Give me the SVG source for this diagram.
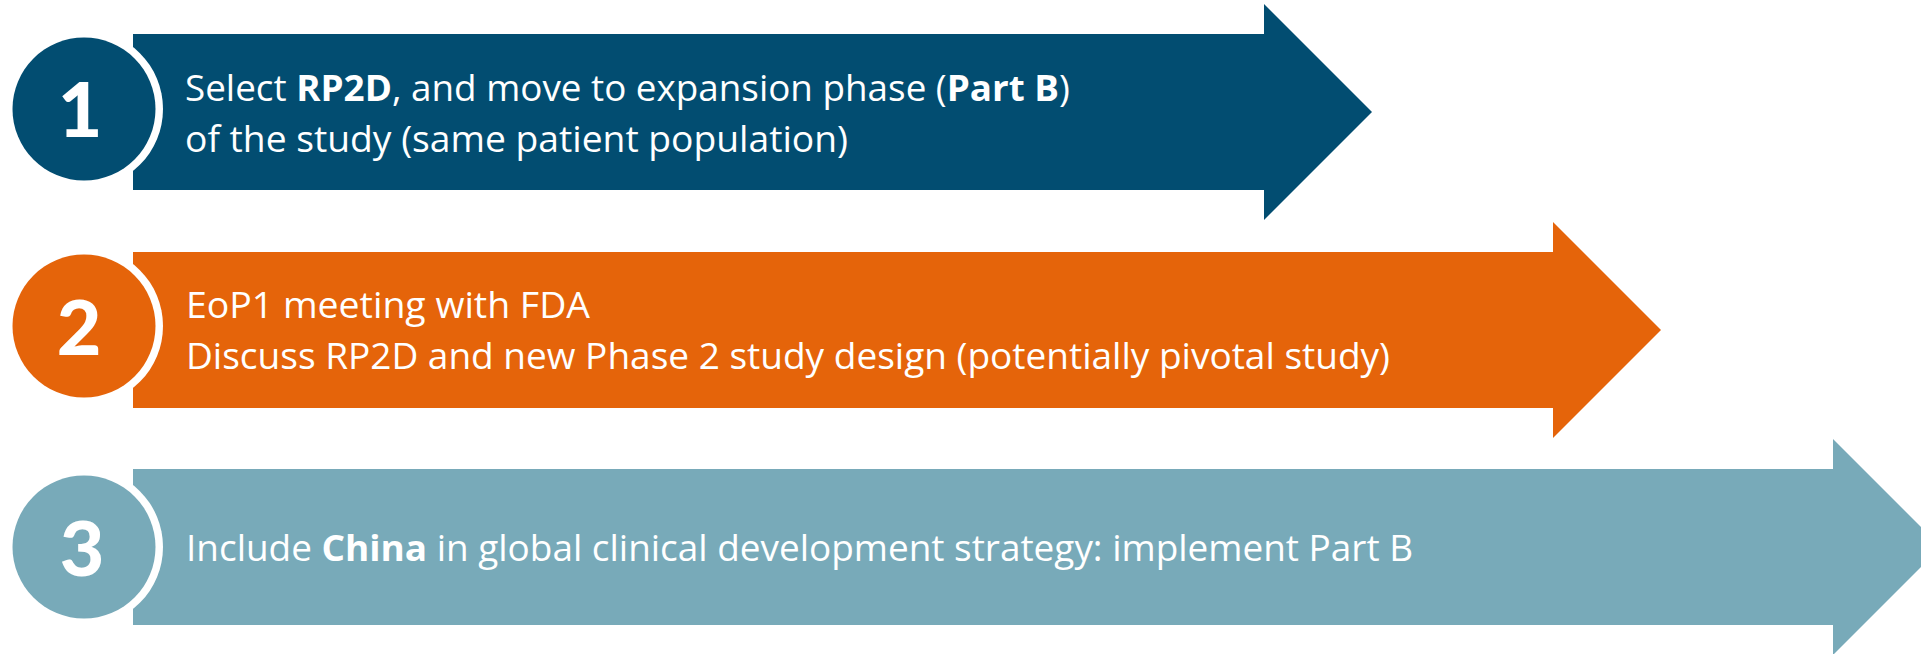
<svg xmlns="http://www.w3.org/2000/svg" width="1921" height="654" viewBox="0 0 1921 654">
<style>
.t{font-family:"Open Sans","Noto Sans","Liberation Sans",sans-serif;font-size:36px;fill:#fff}
.b{font-weight:bold}
.n{font-family:Lato,"Open Sans","Liberation Sans",sans-serif;font-size:77px;font-weight:900;fill:#fff;text-anchor:middle}
.ring{fill:#fff}
.blue{fill:#024D71}
.orange{fill:#E5640A}
.teal{fill:#78AAB9}
</style>
<rect width="1921" height="654" fill="#fff"/>
<g id="node1">
<path class="blue" d="M133,34 H1264 V4 L1372,112 L1264,220 V190 H133 Z"/>
<circle class="ring" cx="84" cy="109" r="79"/>
<circle class="blue" cx="84" cy="109" r="71.5"/>
<text class="n" x="80" y="137">1</text>
<text class="t" x="185" y="101" textLength="885" lengthAdjust="spacingAndGlyphs">Select <tspan class="b">RP2D</tspan>, and move to expansion phase (<tspan class="b">Part B</tspan>)</text>
<text class="t" x="185" y="152" textLength="663" lengthAdjust="spacingAndGlyphs">of the study (same patient population)</text>
</g>
<g id="node2">
<path class="orange" d="M133,252 H1553 V222 L1661,330 L1553,438 V408 H133 Z"/>
<circle class="ring" cx="84" cy="326" r="79"/>
<circle class="orange" cx="84" cy="326" r="71.5"/>
<text class="n" x="79" y="355">2</text>
<text class="t" x="186" y="318" textLength="404" lengthAdjust="spacingAndGlyphs">EoP1 meeting with FDA</text>
<text class="t" x="186" y="369" textLength="1204" lengthAdjust="spacingAndGlyphs">Discuss RP2D and new Phase 2 study design (potentially pivotal study)</text>
</g>
<g id="node3">
<path class="teal" d="M133,469 H1833 V439 L1941,547 L1833,655 V625 H133 Z"/>
<circle class="ring" cx="84" cy="547" r="79"/>
<circle class="teal" cx="84" cy="547" r="71.5"/>
<text class="n" x="82" y="576">3</text>
<text class="t" x="186" y="561" textLength="1227" lengthAdjust="spacingAndGlyphs">Include <tspan class="b">China</tspan> in global clinical development strategy: implement Part B</text>
</g>
<g id="connectors"></g>
</svg>
